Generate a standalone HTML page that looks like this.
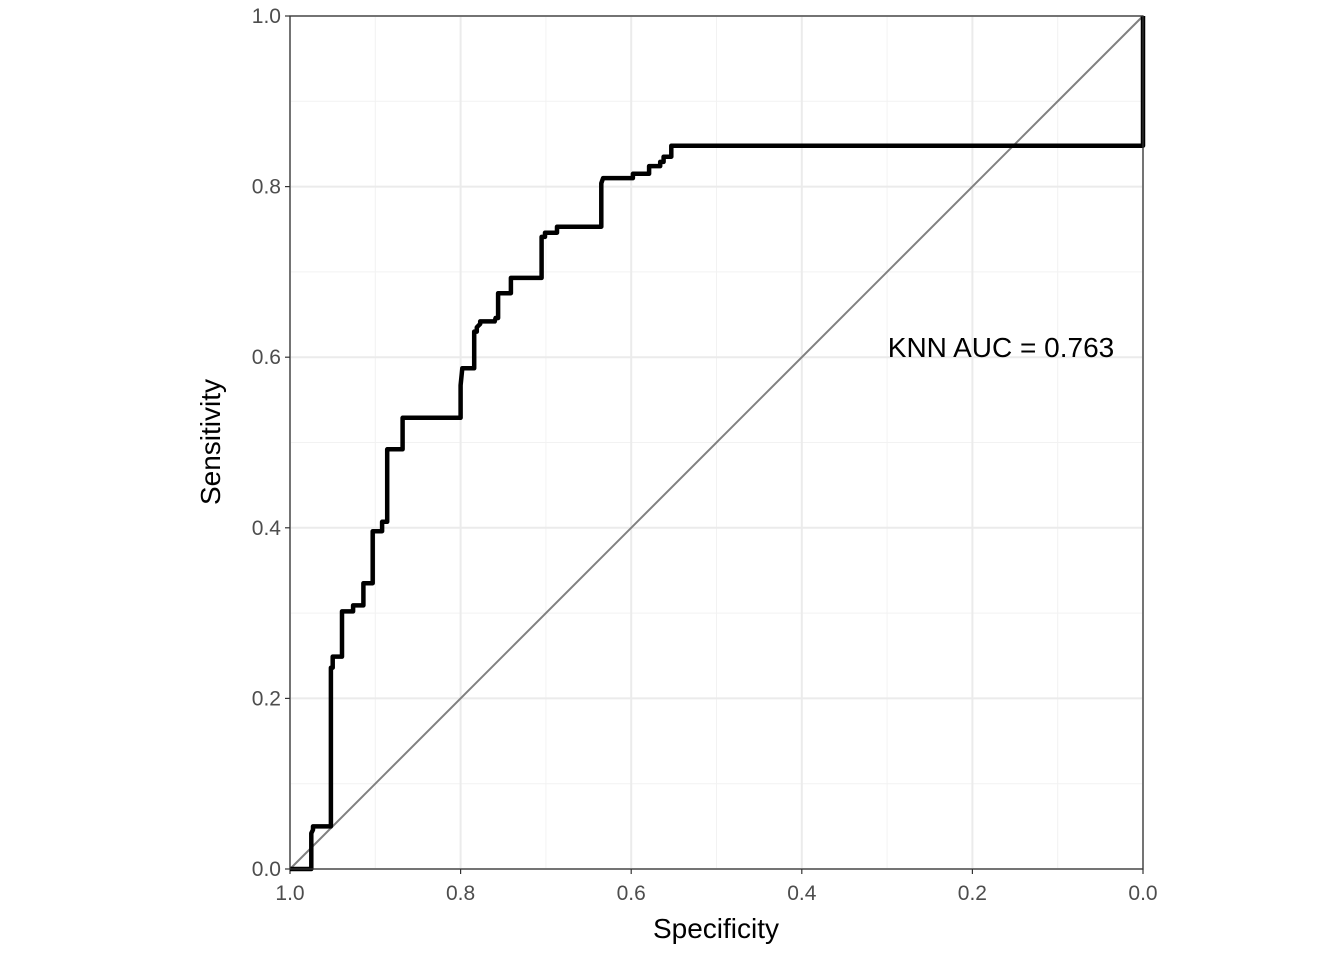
<!DOCTYPE html>
<html><head><meta charset="utf-8"><style>
html,body{margin:0;padding:0;background:#fff}
svg{display:block;font-family:"Liberation Sans",sans-serif}
</style></head><body>
<svg id="chart" width="1344" height="960"></svg>
<script>
const specValues=[1.0,0.975,0.975,0.973,0.973,0.952,0.952,0.950,0.950,0.939,0.939,0.926,0.926,0.914,0.914,0.903,0.903,0.892,0.892,0.886,0.886,0.868,0.868,0.800,0.800,0.798,0.784,0.784,0.781,0.781,0.777,0.777,0.760,0.759,0.756,0.756,0.741,0.741,0.705,0.705,0.701,0.701,0.687,0.687,0.635,0.635,0.633,0.598,0.598,0.579,0.579,0.566,0.566,0.562,0.562,0.553,0.553,0.0,0.0];
const sensValues=[0,0,0.042,0.046,0.050,0.050,0.236,0.236,0.249,0.249,0.302,0.302,0.309,0.309,0.335,0.335,0.396,0.396,0.407,0.407,0.492,0.492,0.529,0.529,0.567,0.587,0.587,0.630,0.630,0.635,0.639,0.642,0.642,0.646,0.646,0.675,0.675,0.693,0.693,0.741,0.741,0.746,0.746,0.753,0.753,0.804,0.810,0.810,0.815,0.815,0.824,0.824,0.829,0.829,0.835,0.835,0.848,0.848,1.0];
const tickValues=[0,0.2,0.4,0.6,0.8,1.0];
const tickLabels=["0.0","0.2","0.4","0.6","0.8","1.0"];
const minorValues=[0.1,0.3,0.5,0.7,0.9];
const aucLabel="KNN AUC = 0.763";

const NS="http://www.w3.org/2000/svg";
const svg=document.getElementById('chart');
const L=290,R=1143,T=16,B=869;
const xS=s=>R-(R-L)*s;
const yS=v=>B-(B-T)*v;
function mk(tag,attrs,parent){const e=document.createElementNS(NS,tag);for(const k in attrs)e.setAttribute(k,attrs[k]);(parent||svg).appendChild(e);return e;}

const grid=mk('g',{});


minorValues.forEach(v=>{
  const a=mk('line',{x1:xS(v),x2:xS(v),y1:T,y2:B,stroke:'#f2f2f2','stroke-width':1},grid);
  
  
  const b=mk('line',{x1:L,x2:R,y1:yS(v),y2:yS(v),stroke:'#f2f2f2','stroke-width':1},grid);
  
  
});
tickValues.forEach((v,i)=>{
  const a=mk('line',{x1:xS(v),x2:xS(v),y1:T,y2:B,stroke:'#ebebeb','stroke-width':2},grid);
  
  
  const b=mk('line',{x1:L,x2:R,y1:yS(v),y2:yS(v),stroke:'#ebebeb','stroke-width':2},grid);
  
  
  const tx=mk('line',{x1:xS(v),x2:xS(v),y1:B,y2:B+5,stroke:'#333','stroke-width':1.2});
  
  
  const ty=mk('line',{x1:L-5,x2:L,y1:yS(v),y2:yS(v),stroke:'#333','stroke-width':1.2});
  
  
  const lx=mk('text',{x:xS(v),y:B+31,'text-anchor':'middle','font-size':21,fill:'#4d4d4d'});
  lx.textContent=tickLabels[i];
  
  
  const ly=mk('text',{x:L-9,y:yS(v)+7,'text-anchor':'end','font-size':21,fill:'#4d4d4d'});
  ly.textContent=tickLabels[i];
  
  
});

const diag=mk('line',{x1:xS(1),y1:yS(0),x2:xS(0),y2:yS(1),stroke:'#808080','stroke-width':2});



const pts=specValues.map((s,i)=>xS(s).toFixed(1)+','+yS(sensValues[i]).toFixed(1)).join(' ');
const roc=mk('polyline',{points:pts,fill:'none',stroke:'#000','stroke-width':4.5,'stroke-linejoin':'round'});



const border=mk('rect',{x:L,y:T,width:R-L,height:B-T,fill:'none',stroke:'#333','stroke-width':1.3});



const auc=mk('text',{x:1001,y:357,'text-anchor':'middle','font-size':28,fill:'#000'});
auc.textContent=aucLabel;



const xt=mk('text',{x:716,y:938,'text-anchor':'middle','font-size':28,fill:'#000'});
xt.textContent='Specificity';



const yt=mk('text',{x:0,y:0,'text-anchor':'middle','font-size':28,fill:'#000',transform:'translate(220,442) rotate(-90)'});
yt.textContent='Sensitivity';


</script>
</body></html>
